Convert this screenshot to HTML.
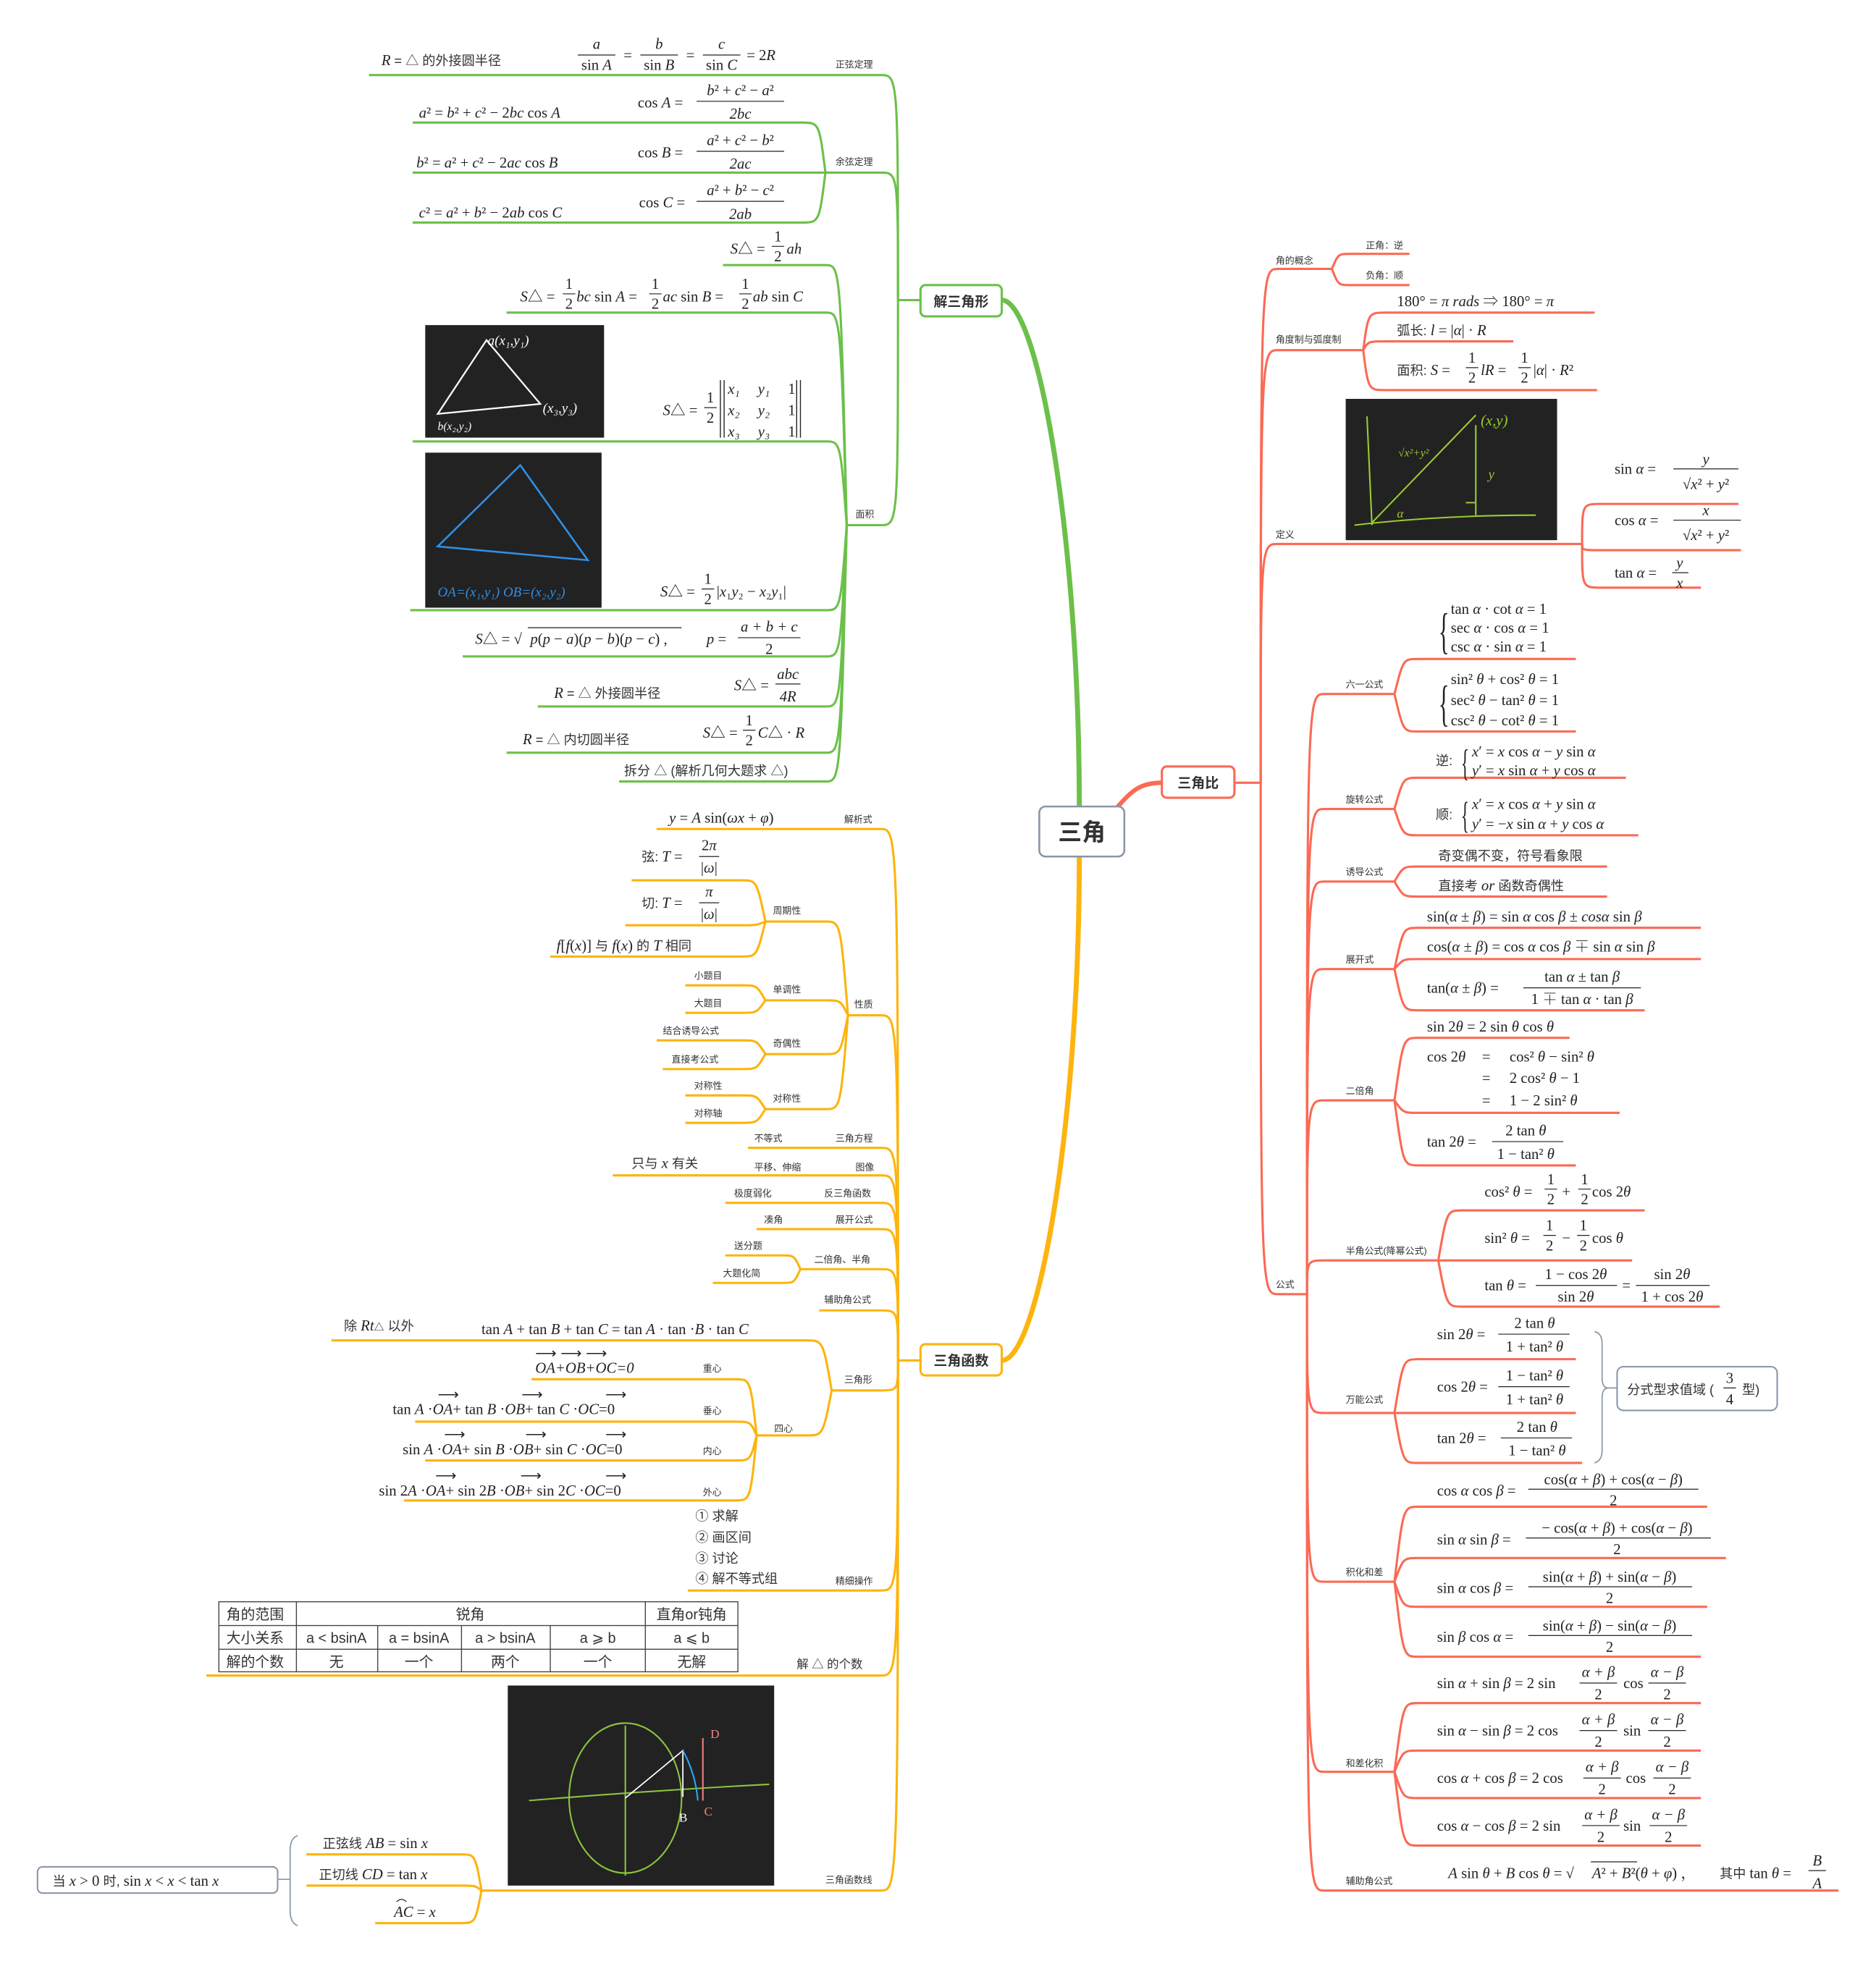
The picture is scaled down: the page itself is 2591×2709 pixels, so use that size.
<!DOCTYPE html>
<html><head><meta charset="utf-8">
<style>
html,body{margin:0;padding:0;background:#fff;}
svg{display:block;}
.m{font-family:"Liberation Serif","Noto Serif CJK SC",serif;font-size:12px;fill:#222;}
.i{font-style:italic;}
.l{font-family:"Liberation Sans","Noto Sans CJK SC",sans-serif;font-size:7.5px;fill:#333;}
.c{font-family:"Liberation Sans","Noto Sans CJK SC",sans-serif;font-size:10.5px;fill:#333;}
.g{fill:none;stroke:#6cc04a;stroke-width:1.8;}
.o{fill:none;stroke:#fdb40e;stroke-width:1.8;}
.r{fill:none;stroke:#fa6a55;stroke-width:1.8;}
.f{stroke:#222;stroke-width:0.7;}
.mid{text-anchor:middle;}
</style></head>
<body>
<svg width="2591" height="2709" viewBox="0 0 1500 1568.3" xmlns="http://www.w3.org/2000/svg">
<rect width="1500" height="1569" fill="#fff"/>

<path d="M863 645 C863 430,830 240,801 240" fill="none" stroke="#6cc04a" stroke-width="4"/>
<path d="M863 685 C863 900,830 1088,801 1088" fill="none" stroke="#fdb40e" stroke-width="4"/>
<path d="M893 646 C905 632,912 626,929 626" fill="none" stroke="#fa6a55" stroke-width="3.5"/>

<rect x="831" y="645" width="68" height="40" rx="5" fill="#fff" stroke="#8a96a8" stroke-width="1.5"/>
<text x="865" y="672" class="mid" style="font-family:'Liberation Sans','Noto Sans CJK SC',sans-serif;font-size:19px;font-weight:bold;fill:#333">三角</text>

<!-- ============ GREEN ============ -->
<rect x="736" y="228" width="65" height="25" rx="4" fill="#fff" stroke="#6cc04a" stroke-width="1.8"/>
<text x="768.5" y="245" class="mid" style="font-family:'Liberation Sans','Noto Sans CJK SC',sans-serif;font-size:11px;font-weight:bold;fill:#333">解三角形</text>
<path class="g" d="M736 240 H718"/>
<path class="g" d="M718 240 C718 60,718 60,704 60 H295"/>
<path class="g" d="M718 240 C718 138,718 138,704 138 H660"/>
<path class="g" d="M718 240 C718 420,718 420,704 420 H677"/>
<text x="668" y="54" class="l">正弦定理</text>
<text x="668" y="132" class="l">余弦定理</text>
<text x="684" y="414" class="l">面积</text>

<text x="305" y="52" class="c"><tspan class="m i">R</tspan> = △ 的外接圆半径</text>
<text x="477" y="39" class="m i mid">a</text><line class="f" x1="462" y1="44" x2="492" y2="44"/><text x="477" y="56" class="m mid">sin <tspan class="i">A</tspan></text>
<text x="502" y="48" class="m mid">=</text>
<text x="527" y="39" class="m i mid">b</text><line class="f" x1="512" y1="44" x2="542" y2="44"/><text x="527" y="56" class="m mid">sin <tspan class="i">B</tspan></text>
<text x="552" y="48" class="m mid">=</text>
<text x="577" y="39" class="m i mid">c</text><line class="f" x1="562" y1="44" x2="592" y2="44"/><text x="577" y="56" class="m mid">sin <tspan class="i">C</tspan></text>
<text x="597" y="48" class="m">= 2<tspan class="i">R</tspan></text>

<path class="g" d="M660 138 C655 98,655 98,641 98 H330"/>
<path class="g" d="M660 138 H330"/>
<path class="g" d="M660 138 C655 178,655 178,641 178 H330"/>
<text x="335" y="94" class="m"><tspan class="i">a</tspan>² = <tspan class="i">b</tspan>² + <tspan class="i">c</tspan>² − 2<tspan class="i">bc</tspan> cos <tspan class="i">A</tspan></text>
<text x="510" y="86" class="m">cos <tspan class="i">A</tspan> =</text>
<text x="592" y="76" class="m mid"><tspan class="i">b</tspan>² + <tspan class="i">c</tspan>² − <tspan class="i">a</tspan>²</text><line class="f" x1="557" y1="81" x2="627" y2="81"/><text x="592" y="95" class="m i mid">2bc</text>
<text x="333" y="134" class="m"><tspan class="i">b</tspan>² = <tspan class="i">a</tspan>² + <tspan class="i">c</tspan>² − 2<tspan class="i">ac</tspan> cos <tspan class="i">B</tspan></text>
<text x="510" y="126" class="m">cos <tspan class="i">B</tspan> =</text>
<text x="592" y="116" class="m mid"><tspan class="i">a</tspan>² + <tspan class="i">c</tspan>² − <tspan class="i">b</tspan>²</text><line class="f" x1="557" y1="121" x2="627" y2="121"/><text x="592" y="135" class="m i mid">2ac</text>
<text x="335" y="174" class="m"><tspan class="i">c</tspan>² = <tspan class="i">a</tspan>² + <tspan class="i">b</tspan>² − 2<tspan class="i">ab</tspan> cos <tspan class="i">C</tspan></text>
<text x="511" y="166" class="m">cos <tspan class="i">C</tspan> =</text>
<text x="592" y="156" class="m mid"><tspan class="i">a</tspan>² + <tspan class="i">b</tspan>² − <tspan class="i">c</tspan>²</text><line class="f" x1="557" y1="161" x2="627" y2="161"/><text x="592" y="175" class="m i mid">2ab</text>

<path class="g" d="M677 420 C672 212,672 212,660 212 H578"/>
<path class="g" d="M677 420 C672 250,672 250,660 250 H405"/>
<path class="g" d="M677 420 C672 353,672 353,660 353 H330"/>
<path class="g" d="M677 420 C672 488,672 488,660 488 H328"/>
<path class="g" d="M677 420 C672 525,672 525,660 525 H370"/>
<path class="g" d="M677 420 C672 565,672 565,660 565 H430"/>
<path class="g" d="M677 420 C672 602,672 602,660 602 H405"/>
<path class="g" d="M677 420 C672 625,672 625,660 625 H495"/>

<text x="584" y="203" class="m"><tspan class="i">S</tspan>△ =</text>
<text x="622" y="193" class="m mid">1</text><line class="f" x1="617" y1="197" x2="627" y2="197"/><text x="622" y="209" class="m mid">2</text>
<text x="629" y="203" class="m i">ah</text>

<text x="416" y="241" class="m"><tspan class="i">S</tspan>△ =</text>
<text x="455" y="231" class="m mid">1</text><line class="f" x1="450" y1="235" x2="460" y2="235"/><text x="455" y="247" class="m mid">2</text>
<text x="461" y="241" class="m"><tspan class="i">bc</tspan> sin <tspan class="i">A</tspan> =</text>
<text x="524" y="231" class="m mid">1</text><line class="f" x1="519" y1="235" x2="529" y2="235"/><text x="524" y="247" class="m mid">2</text>
<text x="530" y="241" class="m"><tspan class="i">ac</tspan> sin <tspan class="i">B</tspan> =</text>
<text x="596" y="231" class="m mid">1</text><line class="f" x1="591" y1="235" x2="601" y2="235"/><text x="596" y="247" class="m mid">2</text>
<text x="602" y="241" class="m"><tspan class="i">ab</tspan> sin <tspan class="i">C</tspan></text>

<rect x="340" y="260" width="143" height="90" fill="#222"/>
<path d="M350 331 L389 272 L432 323 Z" fill="none" stroke="#fff" stroke-width="1.3"/>
<text x="390" y="276" style="font-family:'Liberation Serif',serif;font-size:11px;fill:#fff;font-style:italic">a(x₁,y₁)</text>
<text x="434" y="330" style="font-family:'Liberation Serif',serif;font-size:11px;fill:#fff;font-style:italic">(x₃,y₃)</text>
<text x="350" y="344" style="font-family:'Liberation Serif',serif;font-size:9px;fill:#fff;font-style:italic">b(x₂,y₂)</text>

<text x="530" y="332" class="m"><tspan class="i">S</tspan>△ =</text>
<text x="568" y="322" class="m mid">1</text><line class="f" x1="563" y1="326" x2="573" y2="326"/><text x="568" y="338" class="m mid">2</text>
<path d="M576 304 V350 M579 304 V350 M637 304 V350 M640 304 V350" stroke="#222" stroke-width="0.8"/>
<text x="582" y="315" class="m i">x₁</text><text x="606" y="315" class="m i">y₁</text><text x="630" y="315" class="m">1</text>
<text x="582" y="332" class="m i">x₂</text><text x="606" y="332" class="m i">y₂</text><text x="630" y="332" class="m">1</text>
<text x="582" y="349" class="m i">x₃</text><text x="606" y="349" class="m i">y₃</text><text x="630" y="349" class="m">1</text>

<rect x="340" y="362" width="141" height="124" fill="#222"/>
<path d="M350 437 L416 372 L470 448 Z" fill="none" stroke="#2f8fe6" stroke-width="1.5"/>
<text x="350" y="477" style="font-family:'Liberation Serif',serif;font-size:11px;fill:#2f8fe6;font-style:italic">OA=(x₁,y₁) OB=(x₂,y₂)</text>

<text x="528" y="477" class="m"><tspan class="i">S</tspan>△ =</text>
<text x="566" y="467" class="m mid">1</text><line class="f" x1="561" y1="471" x2="571" y2="471"/><text x="566" y="483" class="m mid">2</text>
<text x="573" y="477" class="m">|<tspan class="i">x</tspan>₁<tspan class="i">y</tspan>₂ − <tspan class="i">x</tspan>₂<tspan class="i">y</tspan>₁|</text>

<text x="380" y="515" class="m"><tspan class="i">S</tspan>△ = √</text>
<path d="M422 502 H545" stroke="#222" stroke-width="0.7"/>
<text x="424" y="515" class="m"><tspan class="i">p</tspan>(<tspan class="i">p</tspan> − <tspan class="i">a</tspan>)(<tspan class="i">p</tspan> − <tspan class="i">b</tspan>)(<tspan class="i">p</tspan> − <tspan class="i">c</tspan>) ,</text>
<text x="565" y="515" class="m"><tspan class="i">p</tspan> =</text>
<text x="615" y="505" class="m i mid">a + b + c</text><line class="f" x1="590" y1="510" x2="640" y2="510"/><text x="615" y="523" class="m mid">2</text>

<text x="443" y="558" class="c"><tspan class="m i">R</tspan> = △ 外接圆半径</text>
<text x="587" y="552" class="m"><tspan class="i">S</tspan>△ =</text>
<text x="630" y="543" class="m i mid">abc</text><line class="f" x1="620" y1="547" x2="640" y2="547"/><text x="630" y="561" class="m i mid">4R</text>

<text x="418" y="595" class="c"><tspan class="m i">R</tspan> = △ 内切圆半径</text>
<text x="562" y="590" class="m"><tspan class="i">S</tspan>△ =</text>
<text x="599" y="580" class="m mid">1</text><line class="f" x1="594" y1="584" x2="604" y2="584"/><text x="599" y="596" class="m mid">2</text>
<text x="606" y="590" class="m"><tspan class="i">C</tspan>△ · <tspan class="i">R</tspan></text>
<text x="499" y="620" class="c">拆分 △ (解析几何大题求 △)</text>

<!-- ============ ORANGE ============ -->
<rect x="736" y="1075" width="65" height="25" rx="4" fill="#fff" stroke="#fdb40e" stroke-width="1.8"/>
<text x="768.5" y="1092" class="mid" style="font-family:'Liberation Sans','Noto Sans CJK SC',sans-serif;font-size:11px;font-weight:bold;fill:#333">三角函数</text>
<path class="o" d="M736 1088 H718"/>
<path class="o" d="M718 1088 C718 663,718 663,704 663 H525"/>
<path class="o" d="M718 1088 C718 812,718 812,704 812 H678"/>
<path class="o" d="M718 1088 C718 918,718 918,704 918 H598"/>
<path class="o" d="M718 1088 C718 940,718 940,704 940 H490"/>
<path class="o" d="M718 1088 C718 962,718 962,704 962 H580"/>
<path class="o" d="M718 1088 C718 983,718 983,704 983 H605"/>
<path class="o" d="M718 1088 C718 1015,718 1015,704 1015 H640"/>
<path class="o" d="M718 1088 C718 1048,718 1048,704 1048 H655"/>
<path class="o" d="M718 1088 C718 1112,718 1112,704 1112 H665"/>
<path class="o" d="M718 1088 C718 1272,718 1272,704 1272 H550"/>
<path class="o" d="M718 1088 C718 1340,718 1340,704 1340 H165"/>
<path class="o" d="M718 1088 C718 1512,718 1512,704 1512 H385"/>

<text x="675" y="658" class="l">解析式</text>
<text x="535" y="658" class="m"><tspan class="i">y</tspan> = <tspan class="i">A</tspan> sin(<tspan class="i">ωx</tspan> + <tspan class="i">φ</tspan>)</text>
<text x="683" y="806" class="l">性质</text>
<text x="668" y="913" class="l">三角方程</text><text x="603" y="913" class="l">不等式</text>
<text x="684" y="936" class="l">图像</text><text x="603" y="936" class="l">平移、伸缩</text>
<text x="505" y="934" class="c">只与 <tspan class="m i">x</tspan> 有关</text>
<text x="659" y="957" class="l">反三角函数</text><text x="587" y="957" class="l">极度弱化</text>
<text x="668" y="978" class="l">展开公式</text><text x="611" y="978" class="l">凑角</text>
<text x="651" y="1010" class="l">二倍角、半角</text>
<text x="659" y="1042" class="l">辅助角公式</text>
<text x="675" y="1106" class="l">三角形</text>
<text x="668" y="1267" class="l">精细操作</text>
<text x="637" y="1334" class="c" style="font-size:9.5px">解 △ 的个数</text>
<text x="660" y="1506" class="l">三角函数线</text>

<path class="o" d="M678 812 C672 737,672 737,660 737 H612"/>
<path class="o" d="M678 812 C672 800,672 800,660 800 H612"/>
<path class="o" d="M678 812 C672 843,672 843,660 843 H612"/>
<path class="o" d="M678 812 C672 887,672 887,660 887 H612"/>
<text x="618" y="731" class="l">周期性</text>
<text x="618" y="794" class="l">单调性</text>
<text x="618" y="837" class="l">奇偶性</text>
<text x="618" y="881" class="l">对称性</text>
<path class="o" d="M612 737 C605 704,605 704,593 704 H505"/>
<path class="o" d="M612 737 C605 740,605 740,593 740 H500"/>
<path class="o" d="M612 737 C605 765,605 765,593 765 H440"/>
<text x="513" y="689" class="c">弦: <tspan class="m i">T</tspan> <tspan class="m">=</tspan></text>
<text x="567" y="680" class="m mid">2<tspan class="i">π</tspan></text><line class="f" x1="559" y1="685" x2="575" y2="685"/><text x="567" y="698" class="m mid">|<tspan class="i">ω</tspan>|</text>
<text x="513" y="726" class="c">切: <tspan class="m i">T</tspan> <tspan class="m">=</tspan></text>
<text x="567" y="717" class="m i mid">π</text><line class="f" x1="559" y1="722" x2="575" y2="722"/><text x="567" y="735" class="m mid">|<tspan class="i">ω</tspan>|</text>
<text x="445" y="760" class="c"><tspan class="m i">f</tspan><tspan class="m">[</tspan><tspan class="m i">f</tspan><tspan class="m">(</tspan><tspan class="m i">x</tspan><tspan class="m">)]</tspan> 与 <tspan class="m i">f</tspan><tspan class="m">(</tspan><tspan class="m i">x</tspan><tspan class="m">)</tspan> 的 <tspan class="m i">T</tspan> 相同</text>
<path class="o" d="M612 800 C605 788,605 788,593 788 H548"/>
<path class="o" d="M612 800 C605 810,605 810,593 810 H548"/>
<text x="555" y="783" class="l">小题目</text><text x="555" y="805" class="l">大题目</text>
<path class="o" d="M612 843 C605 832,605 832,593 832 H525"/>
<path class="o" d="M612 843 C605 855,605 855,593 855 H530"/>
<text x="530" y="827" class="l">结合诱导公式</text><text x="537" y="850" class="l">直接考公式</text>
<path class="o" d="M612 887 C605 876,605 876,593 876 H548"/>
<path class="o" d="M612 887 C605 898,605 898,593 898 H548"/>
<text x="555" y="871" class="l">对称性</text><text x="555" y="893" class="l">对称轴</text>

<path class="o" d="M640 1015 C635 1004,635 1004,625 1004 H580"/>
<path class="o" d="M640 1015 C635 1026,635 1026,625 1026 H570"/>
<text x="587" y="999" class="l">送分题</text><text x="578" y="1021" class="l">大题化简</text>

<path class="o" d="M665 1112 C658 1072,658 1072,645 1072 H265"/>
<path class="o" d="M665 1112 C658 1148,658 1148,645 1148 H605"/>
<text x="275" y="1064" class="c">除 <tspan class="m i">Rt</tspan><tspan class="m" style="font-size:8px">△</tspan> 以外</text>
<text x="385" y="1067" class="m">tan <tspan class="i">A</tspan> + tan <tspan class="i">B</tspan> + tan <tspan class="i">C</tspan> = tan <tspan class="i">A</tspan> · tan ·<tspan class="i">B</tspan> · tan <tspan class="i">C</tspan></text>
<text x="619" y="1145" class="l">四心</text>
<path class="o" d="M605 1148 C600 1103,600 1103,588 1103 H425"/>
<path class="o" d="M605 1148 C600 1137,600 1137,588 1137 H332"/>
<path class="o" d="M605 1148 C600 1168,600 1168,588 1168 H340"/>
<path class="o" d="M605 1148 C600 1200,600 1200,588 1200 H323"/>
<text x="562" y="1097" class="l">重心</text><text x="562" y="1131" class="l">垂心</text><text x="562" y="1163" class="l">内心</text><text x="562" y="1196" class="l">外心</text>
<text x="428" y="1098" class="m i">OA+OB+OC=0</text>
<text x="428" y="1086" class="m">⟶ ⟶ ⟶</text>
<text x="314" y="1131" class="m">tan <tspan class="i">A</tspan> ·<tspan class="i">OA</tspan>+ tan <tspan class="i">B</tspan> ·<tspan class="i">OB</tspan>+ tan <tspan class="i">C</tspan> ·<tspan class="i">OC</tspan>=0</text>
<text x="350" y="1119" class="m">⟶</text><text x="417" y="1119" class="m">⟶</text><text x="484" y="1119" class="m">⟶</text>
<text x="322" y="1163" class="m">sin <tspan class="i">A</tspan> ·<tspan class="i">OA</tspan>+ sin <tspan class="i">B</tspan> ·<tspan class="i">OB</tspan>+ sin <tspan class="i">C</tspan> ·<tspan class="i">OC</tspan>=0</text>
<text x="355" y="1151" class="m">⟶</text><text x="420" y="1151" class="m">⟶</text><text x="484" y="1151" class="m">⟶</text>
<text x="303" y="1196" class="m">sin 2<tspan class="i">A</tspan> ·<tspan class="i">OA</tspan>+ sin 2<tspan class="i">B</tspan> ·<tspan class="i">OB</tspan>+ sin 2<tspan class="i">C</tspan> ·<tspan class="i">OC</tspan>=0</text>
<text x="348" y="1184" class="m">⟶</text><text x="416" y="1184" class="m">⟶</text><text x="484" y="1184" class="m">⟶</text>

<text x="556" y="1216" class="c">① 求解</text>
<text x="556" y="1233" class="c">② 画区间</text>
<text x="556" y="1250" class="c">③ 讨论</text>
<text x="556" y="1266" class="c">④ 解不等式组</text>

<!-- table -->
<g stroke="#444" stroke-width="0.8" fill="none">
<rect x="175" y="1281" width="415" height="56"/>
<line x1="175" y1="1300" x2="590" y2="1300"/>
<line x1="175" y1="1319" x2="590" y2="1319"/>
<line x1="237" y1="1281" x2="237" y2="1337"/>
<line x1="516" y1="1281" x2="516" y2="1337"/>
<line x1="302" y1="1300" x2="302" y2="1337"/>
<line x1="369" y1="1300" x2="369" y2="1337"/>
<line x1="440" y1="1300" x2="440" y2="1337"/>
</g>
<g class="c" style="font-size:11.5px">
<text x="181" y="1295">角的范围</text><text x="376" y="1295" class="mid">锐角</text><text x="553" y="1295" class="mid">直角or钝角</text>
<text x="181" y="1314">大小关系</text><text x="269" y="1314" class="mid">a &lt; bsinA</text><text x="335" y="1314" class="mid">a = bsinA</text><text x="404" y="1314" class="mid">a &gt; bsinA</text><text x="478" y="1314" class="mid">a ⩾ b</text><text x="553" y="1314" class="mid">a ⩽ b</text>
<text x="181" y="1333">解的个数</text><text x="269" y="1333" class="mid">无</text><text x="335" y="1333" class="mid">一个</text><text x="404" y="1333" class="mid">两个</text><text x="478" y="1333" class="mid">一个</text><text x="553" y="1333" class="mid">无解</text>
</g>

<rect x="406" y="1348" width="213" height="160" fill="#222"/>
<ellipse cx="500" cy="1438" rx="45" ry="60" fill="none" stroke="#8bc53f" stroke-width="1.2"/>
<path d="M423 1440 Q520 1432 615 1427 M500 1380 V1500" stroke="#8bc53f" stroke-width="1.2" fill="none"/>
<path d="M500 1438 L546 1400 L546 1437" stroke="#fff" stroke-width="1" fill="none"/>
<path d="M562 1390 V1440" stroke="#f08080" stroke-width="1.2"/>
<path d="M546 1400 Q556 1418 558 1440" stroke="#2fa8f0" stroke-width="1.2" fill="none"/>
<text x="543" y="1457" style="font-family:'Liberation Serif',serif;font-size:10px;fill:#fff">B</text>
<text x="563" y="1452" style="font-family:'Liberation Serif',serif;font-size:10px;fill:#f08080">C</text>
<text x="568" y="1390" style="font-family:'Liberation Serif',serif;font-size:10px;fill:#f08080">D</text>

<path class="o" d="M385 1512 C380 1483,380 1483,368 1483 H245"/>
<path class="o" d="M385 1512 C380 1508,380 1508,368 1508 H245"/>
<path class="o" d="M385 1512 C380 1538,380 1538,368 1538 H300"/>
<text x="258" y="1478" class="c">正弦线 <tspan class="m i">AB</tspan><tspan class="m"> = sin </tspan><tspan class="m i">x</tspan></text>
<text x="255" y="1503" class="c">正切线 <tspan class="m i">CD</tspan><tspan class="m"> = tan </tspan><tspan class="m i">x</tspan></text>
<text x="315" y="1533" class="m"><tspan class="i">AC</tspan> = <tspan class="i">x</tspan></text>
<path d="M317 1521 Q321 1517 325 1521" stroke="#222" stroke-width="0.7" fill="none"/>
<path d="M238 1468 Q232 1470 232 1480 V1528 Q232 1538 238 1540 M222 1503 H232" stroke="#8a96a8" stroke-width="1" fill="none"/>
<rect x="30" y="1493" width="192" height="21" rx="4" fill="#fff" stroke="#8a96a8" stroke-width="1.2"/>
<text x="42" y="1508" class="c">当 <tspan class="m i">x</tspan><tspan class="m"> &gt; 0 </tspan>时,  <tspan class="m">sin </tspan><tspan class="m i">x</tspan><tspan class="m"> &lt; </tspan><tspan class="m i">x</tspan><tspan class="m"> &lt; tan </tspan><tspan class="m i">x</tspan></text>

<!-- ============ RED ============ -->
<rect x="929" y="613" width="58" height="25" rx="4" fill="#fff" stroke="#fa6a55" stroke-width="1.8"/>
<text x="958" y="630" class="mid" style="font-family:'Liberation Sans','Noto Sans CJK SC',sans-serif;font-size:11px;font-weight:bold;fill:#333">三角比</text>
<path class="r" d="M987 626 H1008"/>
<path class="r" d="M1008 626 C1008 215,1008 215,1022 215 H1065"/>
<path class="r" d="M1008 626 C1008 280,1008 280,1022 280 H1090"/>
<path class="r" d="M1008 626 C1008 435,1008 435,1022 435 H1265"/>
<path class="r" d="M1008 626 C1008 1035,1008 1035,1022 1035 H1045"/>
<text x="1020" y="211" class="l">角的概念</text>
<text x="1020" y="274" class="l">角度制与弧度制</text>
<text x="1020" y="430" class="l">定义</text>
<text x="1020" y="1030" class="l">公式</text>

<path class="r" d="M1065 215 C1070 203,1070 203,1080 203 H1127"/>
<path class="r" d="M1065 215 C1070 228,1070 228,1080 228 H1127"/>
<text x="1092" y="199" class="l">正角：逆</text>
<text x="1092" y="223" class="l">负角：顺</text>

<path class="r" d="M1090 280 C1094 250,1094 250,1108 250 H1275"/>
<path class="r" d="M1090 280 C1094 273,1094 273,1108 273 H1210"/>
<path class="r" d="M1090 280 C1094 312,1094 312,1108 312 H1277"/>
<text x="1117" y="245" class="m">180° = <tspan class="i">π rads</tspan>  ⇒  180° = <tspan class="i">π</tspan></text>
<text x="1117" y="268" class="c">弧长: <tspan class="m i">l</tspan><tspan class="m"> = |</tspan><tspan class="m i">α</tspan><tspan class="m">| · </tspan><tspan class="m i">R</tspan></text>
<text x="1117" y="300" class="c">面积: <tspan class="m i">S</tspan><tspan class="m"> =</tspan></text>
<text x="1177" y="290" class="m mid">1</text><line class="f" x1="1172" y1="294" x2="1182" y2="294"/><text x="1177" y="306" class="m mid">2</text>
<text x="1184" y="300" class="m"><tspan class="i">lR</tspan> =</text>
<text x="1219" y="290" class="m mid">1</text><line class="f" x1="1214" y1="294" x2="1224" y2="294"/><text x="1219" y="306" class="m mid">2</text>
<text x="1226" y="300" class="m">|<tspan class="i">α</tspan>| · <tspan class="i">R</tspan>²</text>

<rect x="1076" y="319" width="169" height="113" fill="#222"/>
<path d="M1093 333 L1097 420 M1083 420 Q1150 412 1228 412 M1097 418 L1180 332 M1180 340 V412 M1172 402 H1180" stroke="#9acd32" stroke-width="1.2" fill="none"/>
<text x="1184" y="340" style="font-family:'Liberation Serif',serif;font-size:12px;fill:#9acd32;font-style:italic">(x,y)</text>
<text x="1118" y="365" style="font-family:'Liberation Serif',serif;font-size:9px;fill:#9acd32;font-style:italic">√x²+y²</text>
<text x="1190" y="383" style="font-family:'Liberation Serif',serif;font-size:11px;fill:#9acd32;font-style:italic">y</text>
<text x="1117" y="414" style="font-family:'Liberation Serif',serif;font-size:10px;fill:#9acd32;font-style:italic">α</text>

<path class="r" d="M1265 435 C1265 403,1265 403,1280 403 H1390"/>
<path class="r" d="M1265 435 C1265 440,1265 440,1280 440 H1392"/>
<path class="r" d="M1265 435 C1265 470,1265 470,1280 470 H1360"/>
<text x="1291" y="379" class="m">sin <tspan class="i">α</tspan> =</text>
<text x="1364" y="371" class="m i mid">y</text><line class="f" x1="1338" y1="375" x2="1390" y2="375"/><text x="1364" y="391" class="m mid">√<tspan class="i">x</tspan>² + <tspan class="i">y</tspan>²</text>
<text x="1291" y="420" class="m">cos <tspan class="i">α</tspan> =</text>
<text x="1364" y="412" class="m i mid">x</text><line class="f" x1="1338" y1="416" x2="1392" y2="416"/><text x="1364" y="432" class="m mid">√<tspan class="i">x</tspan>² + <tspan class="i">y</tspan>²</text>
<text x="1291" y="462" class="m">tan <tspan class="i">α</tspan> =</text>
<text x="1343" y="454" class="m i mid">y</text><line class="f" x1="1337" y1="458" x2="1350" y2="458"/><text x="1343" y="470" class="m i mid">x</text>

<path class="r" d="M1045 1035 C1045 555,1045 555,1059 555 H1115"/>
<path class="r" d="M1045 1035 C1045 647,1045 647,1059 647 H1115"/>
<path class="r" d="M1045 1035 C1045 705,1045 705,1059 705 H1115"/>
<path class="r" d="M1045 1035 C1045 775,1045 775,1059 775 H1115"/>
<path class="r" d="M1045 1035 C1045 880,1045 880,1059 880 H1115"/>
<path class="r" d="M1045 1035 C1045 1008,1045 1008,1059 1008 H1150"/>
<path class="r" d="M1045 1035 C1045 1130,1045 1130,1059 1130 H1115"/>
<path class="r" d="M1045 1035 C1045 1265,1045 1265,1059 1265 H1115"/>
<path class="r" d="M1045 1035 C1045 1417,1045 1417,1059 1417 H1115"/>
<path class="r" d="M1045 1035 C1045 1512,1045 1512,1059 1512 H1470"/>
<text x="1076" y="550" class="l">六一公式</text>
<text x="1076" y="642" class="l">旋转公式</text>
<text x="1076" y="700" class="l">诱导公式</text>
<text x="1076" y="770" class="l">展开式</text>
<text x="1076" y="875" class="l">二倍角</text>
<text x="1076" y="1003" class="l">半角公式(降幂公式)</text>
<text x="1076" y="1122" class="l">万能公式</text>
<text x="1076" y="1260" class="l">积化和差</text>
<text x="1076" y="1413" class="l">和差化积</text>
<text x="1076" y="1507" class="l">辅助角公式</text>

<path class="r" d="M1115 555 C1122 527,1122 527,1134 527 H1260"/>
<path class="r" d="M1115 555 C1122 585,1122 585,1134 585 H1260"/>
<text x="1148" y="518" style="font-family:'Liberation Serif',serif;font-size:40px;fill:#222" transform="translate(1152 0) scale(0.45 1) translate(-1152 0)">{</text>
<text x="1160" y="491" class="m">tan <tspan class="i">α</tspan> · cot <tspan class="i">α</tspan> = 1</text>
<text x="1160" y="506" class="m">sec <tspan class="i">α</tspan> · cos <tspan class="i">α</tspan> = 1</text>
<text x="1160" y="521" class="m">csc <tspan class="i">α</tspan> · sin <tspan class="i">α</tspan> = 1</text>
<text x="1148" y="576" style="font-family:'Liberation Serif',serif;font-size:40px;fill:#222" transform="translate(1152 0) scale(0.45 1) translate(-1152 0)">{</text>
<text x="1160" y="547" class="m">sin² <tspan class="i">θ</tspan> + cos² <tspan class="i">θ</tspan> = 1</text>
<text x="1160" y="564" class="m">sec² <tspan class="i">θ</tspan> − tan² <tspan class="i">θ</tspan> = 1</text>
<text x="1160" y="580" class="m">csc² <tspan class="i">θ</tspan> − cot² <tspan class="i">θ</tspan> = 1</text>

<path class="r" d="M1115 647 C1122 622,1122 622,1134 622 H1300"/>
<path class="r" d="M1115 647 C1122 668,1122 668,1134 668 H1310"/>
<text x="1148" y="612" class="c">逆:</text>
<text x="1166" y="620" style="font-family:'Liberation Serif',serif;font-size:30px;fill:#222" transform="translate(1170 0) scale(0.45 1) translate(-1170 0)">{</text>
<text x="1177" y="605" class="m"><tspan class="i">x</tspan>′ = <tspan class="i">x</tspan> cos <tspan class="i">α</tspan> − <tspan class="i">y</tspan> sin <tspan class="i">α</tspan></text>
<text x="1177" y="620" class="m"><tspan class="i">y</tspan>′ = <tspan class="i">x</tspan> sin <tspan class="i">α</tspan> + <tspan class="i">y</tspan> cos <tspan class="i">α</tspan></text>
<text x="1148" y="655" class="c">顺:</text>
<text x="1166" y="662" style="font-family:'Liberation Serif',serif;font-size:30px;fill:#222" transform="translate(1170 0) scale(0.45 1) translate(-1170 0)">{</text>
<text x="1177" y="647" class="m"><tspan class="i">x</tspan>′ = <tspan class="i">x</tspan> cos <tspan class="i">α</tspan> + <tspan class="i">y</tspan> sin <tspan class="i">α</tspan></text>
<text x="1177" y="663" class="m"><tspan class="i">y</tspan>′ = −<tspan class="i">x</tspan> sin <tspan class="i">α</tspan> + <tspan class="i">y</tspan> cos <tspan class="i">α</tspan></text>

<path class="r" d="M1115 705 C1122 693,1122 693,1134 693 H1285"/>
<path class="r" d="M1115 705 C1122 717,1122 717,1134 717 H1285"/>
<text x="1150" y="688" class="c">奇变偶不变，符号看象限</text>
<text x="1150" y="712" class="c">直接考 <tspan class="m i">or</tspan> 函数奇偶性</text>

<path class="r" d="M1115 775 C1122 742,1122 742,1134 742 H1360"/>
<path class="r" d="M1115 775 C1122 767,1122 767,1134 767 H1360"/>
<path class="r" d="M1115 775 C1122 808,1122 808,1134 808 H1315"/>
<text x="1141" y="737" class="m">sin(<tspan class="i">α</tspan> ± <tspan class="i">β</tspan>) = sin <tspan class="i">α</tspan> cos <tspan class="i">β</tspan>  ±  <tspan class="i">cosα</tspan> sin <tspan class="i">β</tspan></text>
<text x="1141" y="761" class="m">cos(<tspan class="i">α</tspan> ± <tspan class="i">β</tspan>) = cos <tspan class="i">α</tspan> cos <tspan class="i">β</tspan>  ∓  sin <tspan class="i">α</tspan> sin <tspan class="i">β</tspan></text>
<text x="1141" y="794" class="m">tan(<tspan class="i">α</tspan> ± <tspan class="i">β</tspan>) =</text>
<text x="1265" y="785" class="m mid">tan <tspan class="i">α</tspan> ± tan <tspan class="i">β</tspan></text><line class="f" x1="1218" y1="790" x2="1312" y2="790"/><text x="1265" y="803" class="m mid">1 ∓ tan <tspan class="i">α</tspan> · tan <tspan class="i">β</tspan></text>

<path class="r" d="M1115 880 C1122 830,1122 830,1134 830 H1255"/>
<path class="r" d="M1115 880 C1122 890,1122 890,1134 890 H1295"/>
<path class="r" d="M1115 880 C1122 932,1122 932,1134 932 H1260"/>
<text x="1141" y="825" class="m">sin 2<tspan class="i">θ</tspan> = 2 sin <tspan class="i">θ</tspan> cos <tspan class="i">θ</tspan></text>
<text x="1141" y="849" class="m">cos 2<tspan class="i">θ</tspan></text>
<text x="1185" y="849" class="m">=</text><text x="1207" y="849" class="m">cos² <tspan class="i">θ</tspan> − sin² <tspan class="i">θ</tspan></text>
<text x="1185" y="866" class="m">=</text><text x="1207" y="866" class="m">2 cos² <tspan class="i">θ</tspan> − 1</text>
<text x="1185" y="884" class="m">=</text><text x="1207" y="884" class="m">1 − 2 sin² <tspan class="i">θ</tspan></text>
<text x="1141" y="917" class="m">tan 2<tspan class="i">θ</tspan> =</text>
<text x="1220" y="908" class="m mid">2 tan <tspan class="i">θ</tspan></text><line class="f" x1="1193" y1="913" x2="1250" y2="913"/><text x="1220" y="927" class="m mid">1 − tan² <tspan class="i">θ</tspan></text>

<path class="r" d="M1150 1008 C1157 968,1157 968,1169 968 H1315"/>
<path class="r" d="M1150 1008 H1305"/>
<path class="r" d="M1150 1008 C1157 1045,1157 1045,1169 1045 H1375"/>
<text x="1187" y="957" class="m">cos² <tspan class="i">θ</tspan> =</text>
<text x="1240" y="947" class="m mid">1</text><line class="f" x1="1235" y1="951" x2="1245" y2="951"/><text x="1240" y="963" class="m mid">2</text>
<text x="1249" y="957" class="m">+</text>
<text x="1267" y="947" class="m mid">1</text><line class="f" x1="1262" y1="951" x2="1272" y2="951"/><text x="1267" y="963" class="m mid">2</text>
<text x="1273" y="957" class="m">cos 2<tspan class="i">θ</tspan></text>
<text x="1187" y="994" class="m">sin² <tspan class="i">θ</tspan> =</text>
<text x="1239" y="984" class="m mid">1</text><line class="f" x1="1234" y1="988" x2="1244" y2="988"/><text x="1239" y="1000" class="m mid">2</text>
<text x="1249" y="994" class="m">−</text>
<text x="1266" y="984" class="m mid">1</text><line class="f" x1="1261" y1="988" x2="1271" y2="988"/><text x="1266" y="1000" class="m mid">2</text>
<text x="1273" y="994" class="m">cos <tspan class="i">θ</tspan></text>
<text x="1187" y="1032" class="m">tan <tspan class="i">θ</tspan> =</text>
<text x="1260" y="1023" class="m mid">1 − cos 2<tspan class="i">θ</tspan></text><line class="f" x1="1228" y1="1028" x2="1293" y2="1028"/><text x="1260" y="1041" class="m mid">sin 2<tspan class="i">θ</tspan></text>
<text x="1297" y="1032" class="m">=</text>
<text x="1337" y="1023" class="m mid">sin 2<tspan class="i">θ</tspan></text><line class="f" x1="1308" y1="1028" x2="1367" y2="1028"/><text x="1337" y="1041" class="m mid">1 + cos 2<tspan class="i">θ</tspan></text>

<path class="r" d="M1115 1130 C1122 1087,1122 1087,1134 1087 H1260"/>
<path class="r" d="M1115 1130 H1260"/>
<path class="r" d="M1115 1130 C1122 1170,1122 1170,1134 1170 H1265"/>
<text x="1149" y="1071" class="m">sin 2<tspan class="i">θ</tspan> =</text>
<text x="1227" y="1062" class="m mid">2 tan <tspan class="i">θ</tspan></text><line class="f" x1="1198" y1="1067" x2="1255" y2="1067"/><text x="1227" y="1081" class="m mid">1 + tan² <tspan class="i">θ</tspan></text>
<text x="1149" y="1113" class="m">cos 2<tspan class="i">θ</tspan> =</text>
<text x="1227" y="1104" class="m mid">1 − tan² <tspan class="i">θ</tspan></text><line class="f" x1="1198" y1="1109" x2="1255" y2="1109"/><text x="1227" y="1123" class="m mid">1 + tan² <tspan class="i">θ</tspan></text>
<text x="1149" y="1154" class="m">tan 2<tspan class="i">θ</tspan> =</text>
<text x="1229" y="1145" class="m mid">2 tan <tspan class="i">θ</tspan></text><line class="f" x1="1200" y1="1150" x2="1257" y2="1150"/><text x="1229" y="1164" class="m mid">1 − tan² <tspan class="i">θ</tspan></text>
<path d="M1275 1065 Q1281 1066 1281 1075 V1102 Q1281 1110 1286 1110 Q1281 1110 1281 1118 V1160 Q1281 1168 1275 1170 M1286 1110 H1293" stroke="#8a96a8" stroke-width="1" fill="none"/>
<rect x="1293" y="1093" width="128" height="35" rx="5" fill="#fff" stroke="#8a96a8" stroke-width="1.2"/>
<text x="1301" y="1115" class="c">分式型求值域 (</text>
<text x="1383" y="1106" class="m mid">3</text><line class="f" x1="1378" y1="1110" x2="1388" y2="1110"/><text x="1383" y="1123" class="m mid">4</text>
<text x="1393" y="1115" class="c">型)</text>

<path class="r" d="M1115 1265 C1122 1205,1122 1205,1134 1205 H1365"/>
<path class="r" d="M1115 1265 C1122 1246,1122 1246,1134 1246 H1380"/>
<path class="r" d="M1115 1265 C1122 1285,1122 1285,1134 1285 H1365"/>
<path class="r" d="M1115 1265 C1122 1325,1122 1325,1134 1325 H1360"/>
<text x="1149" y="1196" class="m">cos <tspan class="i">α</tspan> cos <tspan class="i">β</tspan> =</text>
<text x="1290" y="1187" class="m mid">cos(<tspan class="i">α</tspan> + <tspan class="i">β</tspan>) + cos(<tspan class="i">α</tspan> − <tspan class="i">β</tspan>)</text><line class="f" x1="1222" y1="1191" x2="1358" y2="1191"/><text x="1290" y="1204" class="m mid">2</text>
<text x="1149" y="1235" class="m">sin <tspan class="i">α</tspan> sin <tspan class="i">β</tspan> =</text>
<text x="1293" y="1226" class="m mid">− cos(<tspan class="i">α</tspan> + <tspan class="i">β</tspan>) + cos(<tspan class="i">α</tspan> − <tspan class="i">β</tspan>)</text><line class="f" x1="1220" y1="1230" x2="1368" y2="1230"/><text x="1293" y="1243" class="m mid">2</text>
<text x="1149" y="1274" class="m">sin <tspan class="i">α</tspan> cos <tspan class="i">β</tspan> =</text>
<text x="1287" y="1265" class="m mid">sin(<tspan class="i">α</tspan> + <tspan class="i">β</tspan>) + sin(<tspan class="i">α</tspan> − <tspan class="i">β</tspan>)</text><line class="f" x1="1222" y1="1269" x2="1353" y2="1269"/><text x="1287" y="1282" class="m mid">2</text>
<text x="1149" y="1313" class="m">sin <tspan class="i">β</tspan> cos <tspan class="i">α</tspan> =</text>
<text x="1287" y="1304" class="m mid">sin(<tspan class="i">α</tspan> + <tspan class="i">β</tspan>) − sin(<tspan class="i">α</tspan> − <tspan class="i">β</tspan>)</text><line class="f" x1="1222" y1="1308" x2="1353" y2="1308"/><text x="1287" y="1321" class="m mid">2</text>

<path class="r" d="M1115 1417 C1122 1362,1122 1362,1134 1362 H1360"/>
<path class="r" d="M1115 1417 C1122 1400,1122 1400,1134 1400 H1360"/>
<path class="r" d="M1115 1417 C1122 1438,1122 1438,1134 1438 H1360"/>
<path class="r" d="M1115 1417 C1122 1476,1122 1476,1134 1476 H1360"/>
<text x="1149" y="1350" class="m">sin <tspan class="i">α</tspan> + sin <tspan class="i">β</tspan> = 2 sin</text>
<text x="1278" y="1341" class="m i mid">α + β</text><line class="f" x1="1263" y1="1346" x2="1293" y2="1346"/><text x="1278" y="1359" class="m mid">2</text>
<text x="1298" y="1350" class="m">cos</text>
<text x="1333" y="1341" class="m i mid">α − β</text><line class="f" x1="1318" y1="1346" x2="1348" y2="1346"/><text x="1333" y="1359" class="m mid">2</text>
<text x="1149" y="1388" class="m">sin <tspan class="i">α</tspan> − sin <tspan class="i">β</tspan> = 2 cos</text>
<text x="1278" y="1379" class="m i mid">α + β</text><line class="f" x1="1263" y1="1384" x2="1293" y2="1384"/><text x="1278" y="1397" class="m mid">2</text>
<text x="1298" y="1388" class="m">sin</text>
<text x="1333" y="1379" class="m i mid">α − β</text><line class="f" x1="1318" y1="1384" x2="1348" y2="1384"/><text x="1333" y="1397" class="m mid">2</text>
<text x="1149" y="1426" class="m">cos <tspan class="i">α</tspan> + cos <tspan class="i">β</tspan> = 2 cos</text>
<text x="1281" y="1417" class="m i mid">α + β</text><line class="f" x1="1266" y1="1422" x2="1296" y2="1422"/><text x="1281" y="1435" class="m mid">2</text>
<text x="1300" y="1426" class="m">cos</text>
<text x="1337" y="1417" class="m i mid">α − β</text><line class="f" x1="1322" y1="1422" x2="1352" y2="1422"/><text x="1337" y="1435" class="m mid">2</text>
<text x="1149" y="1464" class="m">cos <tspan class="i">α</tspan> − cos <tspan class="i">β</tspan> = 2 sin</text>
<text x="1280" y="1455" class="m i mid">α + β</text><line class="f" x1="1265" y1="1460" x2="1295" y2="1460"/><text x="1280" y="1473" class="m mid">2</text>
<text x="1298" y="1464" class="m">sin</text>
<text x="1334" y="1455" class="m i mid">α − β</text><line class="f" x1="1319" y1="1460" x2="1349" y2="1460"/><text x="1334" y="1473" class="m mid">2</text>

<text x="1158" y="1502" class="m"><tspan class="i">A</tspan> sin <tspan class="i">θ</tspan> + <tspan class="i">B</tspan> cos <tspan class="i">θ</tspan> = √</text>
<path d="M1272 1489 H1309" stroke="#222" stroke-width="0.7"/>
<text x="1273" y="1502" class="m"><tspan class="i">A</tspan>² + <tspan class="i">B</tspan>²(<tspan class="i">θ</tspan> + <tspan class="i">φ</tspan>) ，</text>
<text x="1375" y="1502" class="c">其中 <tspan class="m">tan </tspan><tspan class="m i">θ</tspan><tspan class="m"> =</tspan></text>
<text x="1453" y="1492" class="m i mid">B</text><line class="f" x1="1446" y1="1496" x2="1460" y2="1496"/><text x="1453" y="1510" class="m i mid">A</text>
</svg>
</body></html>
